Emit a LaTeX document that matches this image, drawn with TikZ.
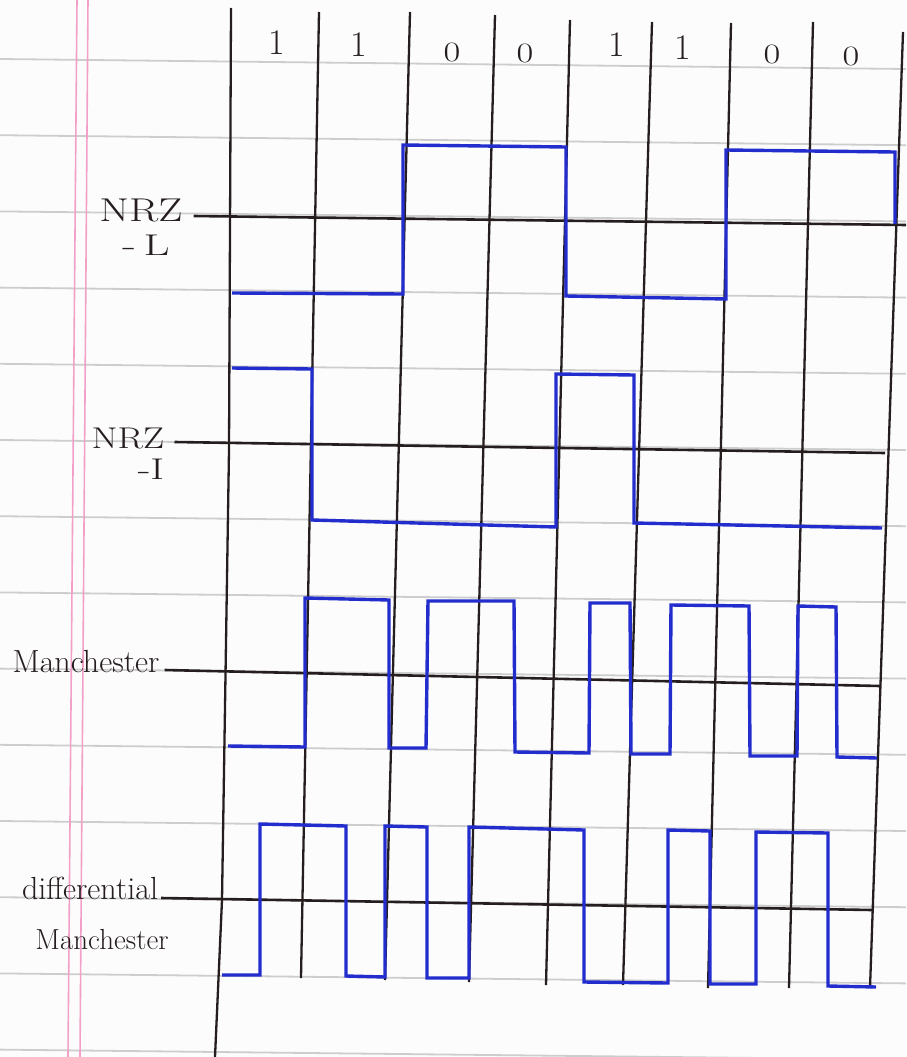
\documentclass[tikz,border=0pt]{standalone}
\usepackage{fontspec}
\usepackage{graphicx}
\definecolor{paper}{RGB}{252,252,252}
\definecolor{rulegrey}{RGB}{205,205,205}
\definecolor{pinkm}{RGB}{242,160,200}
\definecolor{inkblack}{RGB}{38,30,30}
\definecolor{inkblue}{RGB}{35,45,205}
\begin{document}
\begin{tikzpicture}[x=1pt,y=-1pt,
  rule/.style={draw=rulegrey,line width=1.8pt},
  margin/.style={draw=pinkm,line width=1.6pt},
  gridline/.style={draw=inkblack,line width=2.3pt},
  axisline/.style={draw=inkblack,line width=2.6pt},
  wave/.style={draw=inkblue,line width=3.4pt,line join=miter},
  lbl/.style={text=inkblack,inner sep=0pt},
  one/.style={text=inkblack,inner sep=0pt,font=\fontsize{36}{38}\selectfont},
  zero/.style={text=inkblack,inner sep=0pt,font=\fontsize{28}{30}\selectfont}]
\useasboundingbox[fill=paper] (0,0) rectangle (906,1057);
% ruled paper
\foreach \k in {0,...,13}
  \draw[rule] (0,{59+76.2*\k}) -- (906,{69+76.2*\k});
\draw[margin] (77,0) -- (68,1057);
\draw[margin] (88,0) -- (80,1057);
% bit boundaries
\draw[gridline] (231,8) -- (229,450) -- (222,900) -- (215,1057);
\draw[gridline] (319,12) -- (301,978);
\draw[gridline] (410,12) -- (385,980);
\draw[gridline] (495,15) -- (469,982);
\draw[gridline] (570,20) -- (546,985);
\draw[gridline] (652,22) -- (623,985);
\draw[gridline] (731,23) -- (708,988);
\draw[gridline] (813,22) -- (789,988);
\draw[gridline] (903,32) -- (870,988);
% bits
\node[one] (b1) at (277,43) {1};
\node[one] (b2) at (359,45) {1};
\node[zero] (b3) at (452,52) {\scalebox{1.3}[1]{0}};
\node[zero] (b4) at (525,53) {\scalebox{1.3}[1]{0}};
\node[one] (b5) at (617,45) {1};
\node[one] (b6) at (683,48) {1};
\node[zero] (b7) at (772,54) {\scalebox{1.3}[1]{0}};
\node[zero] (b8) at (851,56) {\scalebox{1.3}[1]{0}};
% labels
\node[lbl,font=\fontsize{33}{35}\selectfont] (nrzl) at (141,210) {\scalebox{1.3}[1]{NRZ}};
\node[lbl,font=\fontsize{30}{32}\selectfont] (nrzlb) at (146,245) {\scalebox{1.5}[1]{-\,L}};
\node[lbl,font=\fontsize{30}{32}\selectfont] (nrzi) at (128,438) {\scalebox{1.25}[1]{NRZ}};
\node[lbl,font=\fontsize{30}{32}\selectfont] (nrzib) at (151,469) {\scalebox{1.4}[1]{-I}};
\node[lbl,font=\fontsize{32}{34}\selectfont] (man) at (86,662) {Manchester};
\node[lbl,font=\fontsize{32}{34}\selectfont] (diff) at (90,888) {differential};
\node[lbl,font=\fontsize{29}{31}\selectfont] (dman) at (102,940) {Manchester};
% axes
\draw[axisline] (nrzl.east) ++(11,6) -- (906,225);
\draw[axisline] (nrzi.east) ++(10,4) -- (885,453);
\draw[axisline] (man.east) ++(5,8) -- (880,686);
\draw[axisline] (diff.east) ++(3,10) -- (872,910);
% NRZ-L
\draw[wave] (232,293) -- (403,294) -- (403,145) -- (566,147) -- (566,296)
  -- (726,299) -- (726,150) -- (895,152) -- (895,224);
% NRZ-I
\draw[wave] (232,368) -- (312,369) -- (312,520) -- (556,527) -- (556,374)
  -- (634,375) -- (634,523) -- (882,528);
% Manchester
\draw[wave] (228,746) -- (305,747) -- (305,598) -- (389,600) -- (389,748)
  -- (426,748) -- (428,601) -- (514,601) -- (515,752) -- (589,753)
  -- (590,603) -- (630,603) -- (631,754) -- (670,754) -- (671,605)
  -- (749,606) -- (750,756) -- (797,756) -- (798,606) -- (836,607)
  -- (837,757) -- (877,758);
% differential Manchester
\draw[wave] (222,975) -- (260,975) -- (260,824) -- (346,826) -- (346,976)
  -- (385,977) -- (385,826) -- (427,827) -- (427,978) -- (469,978)
  -- (469,827) -- (584,830) -- (584,982) -- (668,983) -- (668,830)
  -- (710,831) -- (710,984) -- (756,984) -- (756,832) -- (828,833)
  -- (828,986) -- (876,987);
\end{tikzpicture}
\end{document}
